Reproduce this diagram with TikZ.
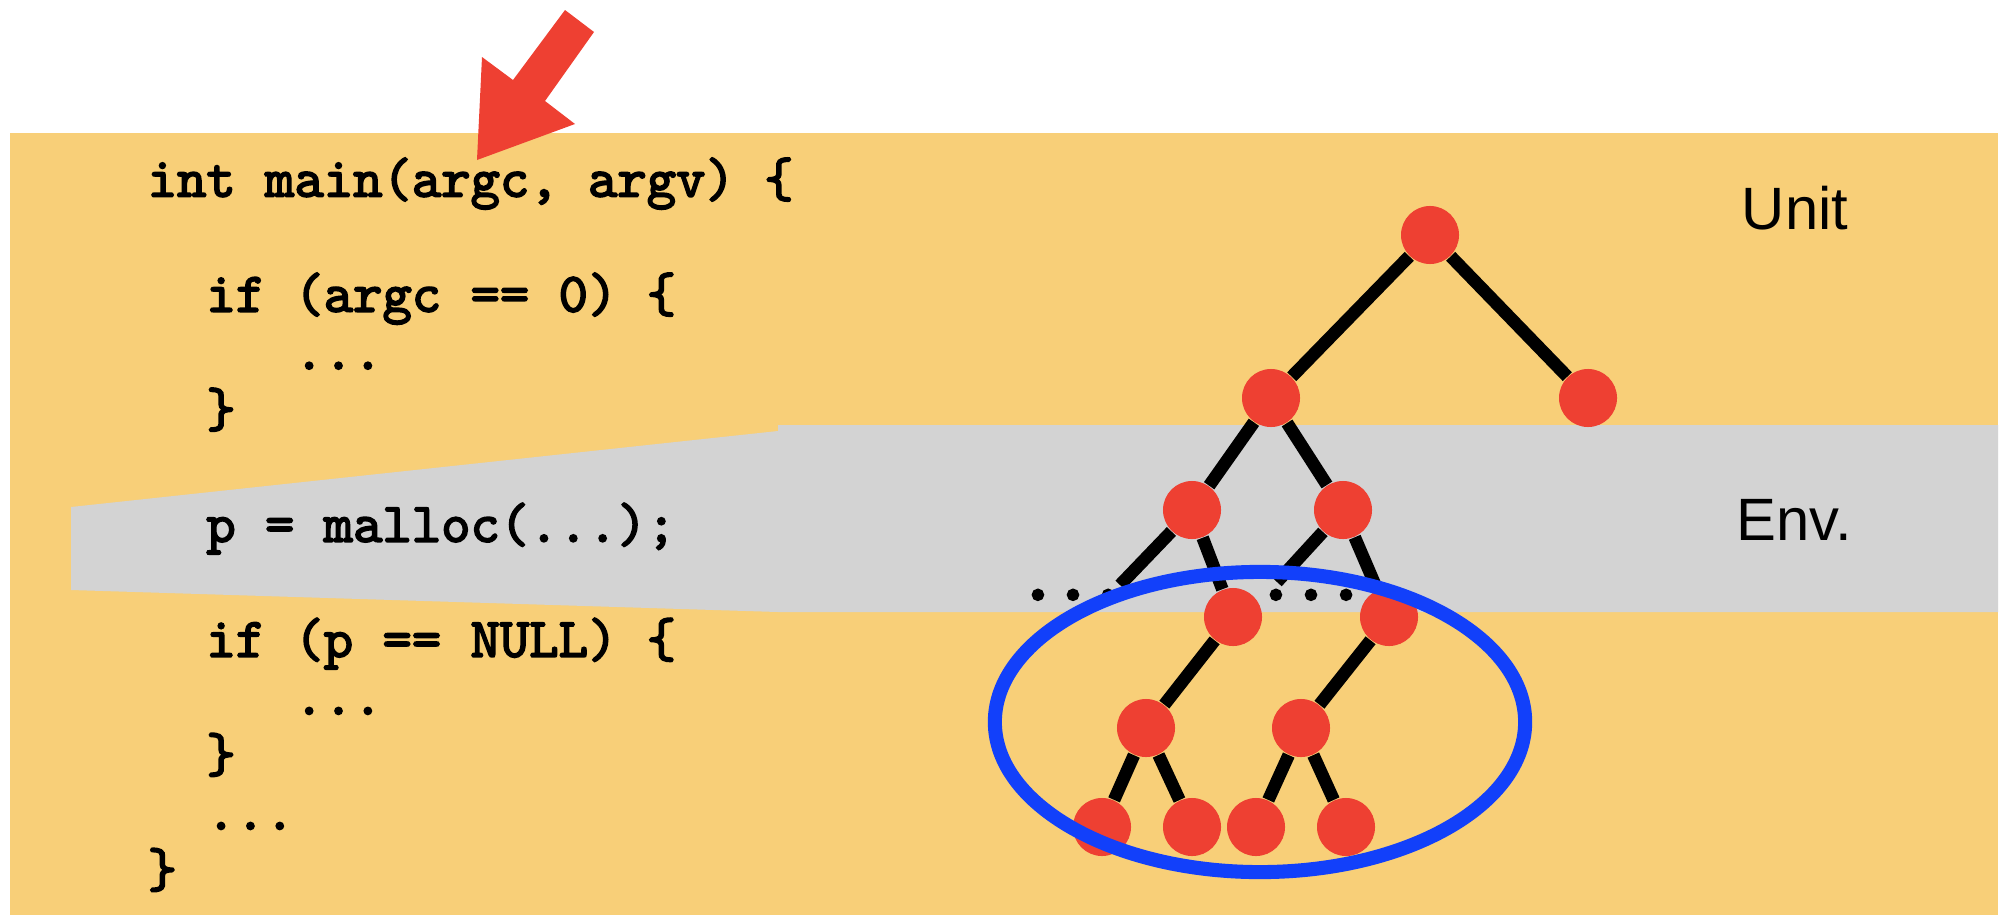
\documentclass[tikz,border=0pt]{standalone}
\usepackage{fontspec}
\usepackage{tikz}
\usetikzlibrary{positioning,shapes.geometric}
\newfontfamily\labelfont{Liberation Sans}
\newfontfamily\codefont{lmmono10-regular.otf}[FakeBold=3]
\newfontfamily\dotfont{lmmono10-regular.otf}[FakeBold=6]
\definecolor{PanelYellow}{RGB}{248,207,120}
\definecolor{EnvGrey}{RGB}{211,211,211}
\definecolor{NodeRed}{RGB}{238,64,50}
\definecolor{RingBlue}{RGB}{18,64,250}
\tikzset{
treenode/.style={circle, fill=NodeRed, minimum size=0.58cm, inner sep=0pt},
treeedge/.style={line width=3.6pt, draw=black},
gapdots/.style={font=\dotfont\bfseries\fontsize{19}{19}\selectfont, inner sep=0pt, anchor=base},
codeblock/.style={font=\codefont\bfseries\fontsize{15.9}{16.36}\selectfont, align=left, inner sep=0pt},
zonelabel/.style={font=\labelfont\fontsize{17}{18}\selectfont, inner sep=0pt},
ring/.style={ellipse, draw=RingBlue, line width=4pt, minimum width=5.3cm, minimum height=3cm, inner sep=0pt}
}

\begin{document}
\begin{tikzpicture}[x=0.01cm, y=-0.01cm]
  \useasboundingbox (0,0) rectangle (2006,915);
  % panel and environment band
  \fill[PanelYellow] (10,133) rectangle (1998,915);
  \fill[EnvGrey] (71,507) -- (778,431) -- (778,425) -- (1998,425) -- (1998,612) -- (778,612) -- (71,590) -- cycle;
  \fill[NodeRed] (565,10) -- (594,32) -- (545,101) -- (575,124) -- (477,160) -- (482,57) -- (513,80) -- cycle;
  \node[codeblock, anchor=base west] (code) at (147,887) {int main(argc, argv) \{\\
    \mbox{}\\
    \phantom{xx}if (argc == 0) \{\\
    \phantom{xxxxx}...\\
    \phantom{xx}\}\\
    \mbox{}\\
    \phantom{xx}p = malloc(...);\\
    \mbox{}\\
    \phantom{xx}if (p == NULL) \{\\
    \phantom{xxxxx}...\\
    \phantom{xx}\}\\
    \phantom{xx}...\\
    \}};
  % tree
  \node[treenode] (root) at (1430,235) {};
  \node[treenode] (l1a) at (1271,398) {};
  \node[treenode] (l1b) at (1588,398) {};
  \node[treenode] (l2a) at (1192,510) {};
  \node[treenode] (l2b) at (1343,510) {};
  \node[treenode] (l3a) at (1233,617) {};
  \node[treenode] (l3b) at (1389,617) {};
  \node[treenode] (l4a) at (1146,728) {};
  \node[treenode] (l4b) at (1301,728) {};
  \node[treenode] (leaf1) at (1102,827) {};
  \node[treenode] (leaf2) at (1192,827) {};
  \node[treenode] (leaf3) at (1256,827) {};
  \node[treenode] (leaf4) at (1346,827) {};
  \node[gapdots] (ldots) at (1073,599) {...};
  \node[gapdots] (rdots) at (1311,599) {...};
  \coordinate (lgap) at (1120,585);
  \coordinate (rgap) at (1277,582);
  \draw[treeedge] (root) -- (l1a);
  \draw[treeedge] (root) -- (l1b);
  \draw[treeedge] (l1a) -- (l2a);
  \draw[treeedge] (l1a) -- (l2b);
  \draw[treeedge] (l2a) -- (lgap);
  \draw[treeedge] (l2a) -- (l3a);
  \draw[treeedge] (l2b) -- (rgap);
  \draw[treeedge] (l2b) -- (l3b);
  \draw[treeedge] (l3a) -- (l4a);
  \draw[treeedge] (l3b) -- (l4b);
  \draw[treeedge] (l4a) -- (leaf1);
  \draw[treeedge] (l4a) -- (leaf2);
  \draw[treeedge] (l4b) -- (leaf3);
  \draw[treeedge] (l4b) -- (leaf4);
  \node[zonelabel] (unit) at (1795,208) {Unit};
  \node[zonelabel] (env) at (1794,520) {Env.};
  \node[ring] (scope) at (1260,722) {};
\end{tikzpicture}
\end{document}
